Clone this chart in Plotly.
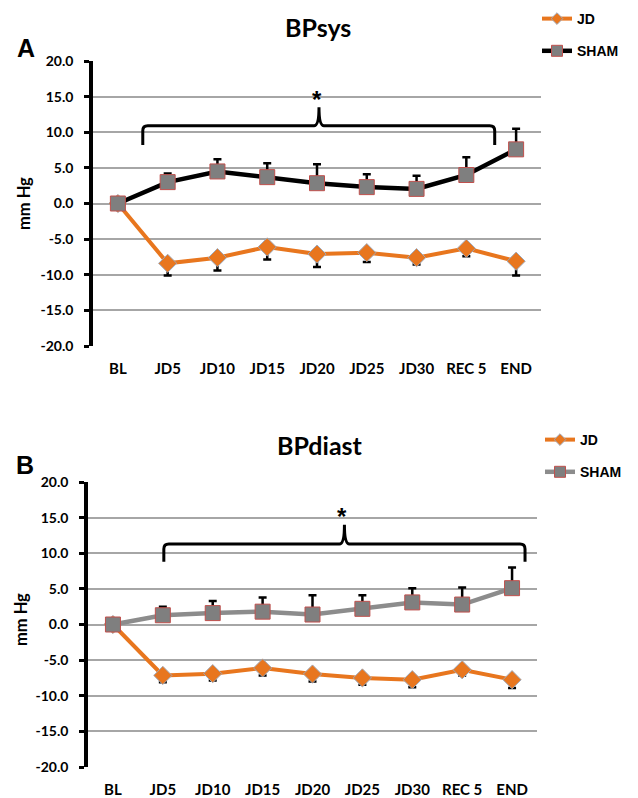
import plotly.graph_objects as go

categories = ["BL", "JD5", "JD10", "JD15", "JD20", "JD25", "JD30", "REC 5", "END"]

# Panel A: BPsys
sys_jd = [0, -8.4, -7.6, -6.1, -7.1, -6.9, -7.6, -6.3, -8.1]
sys_jd_err = [0, 1.7, 1.8, 1.75, 1.8, 1.3, 0.95, 1.1, 2.0]
sys_sham = [0, 3.0, 4.5, 3.7, 2.85, 2.3, 2.05, 4.0, 7.6]
sys_sham_err = [0, 1.2, 1.7, 1.95, 2.65, 1.8, 1.85, 2.5, 2.9]

# Panel B: BPdiast
dia_jd = [0, -7.15, -6.9, -6.1, -6.95, -7.5, -7.75, -6.35, -7.75]
dia_jd_err = [0, 0.95, 0.95, 1.05, 1.05, 0.95, 1.05, 0.8, 1.15]
dia_sham = [0, 1.3, 1.6, 1.8, 1.4, 2.2, 3.1, 2.8, 5.1]
dia_sham_err = [0, 1.2, 1.7, 2.0, 2.7, 1.9, 2.0, 2.4, 2.9]

y_ticks = [20, 15, 10, 5, 0, -5, -10, -15, -20]
y_tick_labels = ["20.0", "15.0", "10.0", "5.0", "0.0", "-5.0", "-10.0", "-15.0", "-20.0"]

W, H = 638, 798
def px(x): return x / W
def py(y): return 1 - y / H

ORANGE = "#E8761E"
SQ_FILL, SQ_EDGE = "#7F7F7F", "#C0504D"
xi = list(range(len(categories)))

fig = go.Figure()

def add_pair(jd, jd_err, sham, sham_err, xa, ya, leg, sham_color):
    fig.add_trace(go.Scatter(
        x=xi, y=jd, name="JD", mode="lines+markers", xaxis=xa, yaxis=ya, showlegend=False,
        line=dict(color=ORANGE, width=4),
        marker=dict(symbol="diamond", size=14, color=ORANGE, line=dict(color="#9FA8B8", width=1)),
        error_y=dict(type="data", symmetric=False, array=[0] * len(jd), arrayminus=jd_err,
                     color="black", thickness=2.5, width=4),
    ))
    fig.add_trace(go.Scatter(
        x=xi, y=sham, name="SHAM", mode="lines+markers", xaxis=xa, yaxis=ya, showlegend=False,
        line=dict(color=sham_color, width=4.5),
        marker=dict(symbol="square", size=15, color=SQ_FILL, line=dict(color=SQ_EDGE, width=1)),
        error_y=dict(type="data", symmetric=False, array=sham_err, arrayminus=[0] * len(sham),
                     color="black", thickness=2.5, width=4),
    ))
    # legend entries (smaller symbols, as in the original)
    fig.add_trace(go.Scatter(
        x=[None], y=[None], name="JD", mode="lines+markers", xaxis=xa, yaxis=ya,
        legend=leg, legendgroup=leg + "jd",
        line=dict(color=ORANGE, width=4),
        marker=dict(symbol="diamond", size=9, color=ORANGE, line=dict(color="#9FA8B8", width=1)),
    ))
    fig.add_trace(go.Scatter(
        x=[None], y=[None], name="SHAM", mode="lines+markers", xaxis=xa, yaxis=ya,
        legend=leg, legendgroup=leg + "sham",
        line=dict(color=sham_color, width=4.5),
        marker=dict(symbol="square", size=11, color=SQ_FILL, line=dict(color=SQ_EDGE, width=1)),
    ))

add_pair(sys_jd, sys_jd_err, sys_sham, sys_sham_err, "x", "y", "legend", "black")
add_pair(dia_jd, dia_jd_err, dia_sham, dia_sham_err, "x2", "y2", "legend2", "#8C8C8C")

TICKFONT = dict(family="Lato", size=14, color="black", weight="bold")
XFONT = dict(family="Lato", size=15, color="black", weight="bold")

def xaxis(dom, anchor):
    return dict(domain=dom, range=[-0.5, 8.5], tickvals=xi, ticktext=categories,
                showgrid=False, zeroline=False, showline=False, ticks="",
                tickfont=XFONT, ticklabelstandoff=12, fixedrange=True,
                automargin=False, anchor=anchor)

def yaxis(dom, anchor):
    return dict(domain=dom, range=[-20, 20], tickvals=y_ticks, ticktext=y_tick_labels,
                showgrid=True, gridcolor="#A6A6A6", gridwidth=1.5, zeroline=False,
                showline=True, linecolor="black", linewidth=3.5,
                ticks="outside", ticklen=5, tickwidth=3, tickcolor="black",
                tickfont=TICKFONT, ticklabelstandoff=8, anchor=anchor, fixedrange=True,
                automargin=False)

LEGFONT = dict(family="Liberation Sans", size=14, color="black", weight="bold")

fig.update_layout(
    width=W, height=H, autosize=False,
    margin=dict(l=0, r=0, t=0, b=0, autoexpand=False),
    plot_bgcolor="white", paper_bgcolor="white",
    xaxis=xaxis([px(93), px(541)], "y"),
    yaxis=yaxis([py(346), py(61)], "x"),
    xaxis2=xaxis([px(88), px(537)], "y2"),
    yaxis2=yaxis([py(767), py(482)], "x2"),
    legend=dict(x=px(537), y=py(3), xanchor="left", yanchor="top", font=LEGFONT,
                bgcolor="rgba(0,0,0,0)", tracegroupgap=11, itemwidth=30),
    legend2=dict(x=px(540), y=py(424), xanchor="left", yanchor="top", font=LEGFONT,
                 bgcolor="rgba(0,0,0,0)", tracegroupgap=11, itemwidth=30),
    showlegend=True,
)

def bracket(x0, x1, xc, yb, yl, yp, xref, yref):
    dx, dy = 0.1, 0.7
    path = (f"M {x0},{yb} L {x0},{yl-dy} Q {x0},{yl} {x0+dx},{yl} "
            f"L {xc-dx},{yl} Q {xc},{yl} {xc},{yp} Q {xc},{yl} {xc+dx},{yl} "
            f"L {x1-dx},{yl} Q {x1},{yl} {x1},{yl-dy} L {x1},{yb}")
    fig.add_shape(type="path", path=path, xref=xref, yref=yref,
                  line=dict(color="black", width=3), layer="above")

bracket(0.50, 7.57, 4.04, 8.2, 10.9, 13.5, "x", "y")
bracket(1.02, 8.26, 4.64, 8.8, 11.3, 14.0, "x2", "y2")

def label(text, x, y, size, family="Lato", angle=0):
    fig.add_annotation(text=text, x=px(x), y=py(y), xref="paper", yref="paper",
                       showarrow=False, xanchor="center", yanchor="middle",
                       textangle=angle,
                       font=dict(family=family, size=size, color="black", weight="bold"))

label("BPsys", 318, 27, 25)
label("BPdiast", 320, 445, 25)
label("A", 26, 48, 25, "Liberation Sans")
label("B", 25, 465, 25, "Liberation Sans")
label("mm Hg", 24, 204, 16.5, angle=-90)
label("mm Hg", 21, 620, 16.5, angle=-90)
label("*", 317, 99, 24, "Liberation Sans")
label("*", 342, 516, 24, "Liberation Sans")

fig.write_html("out.html", config={"displayModeBar": False},
               post_script="document.body.style.margin='0';")
